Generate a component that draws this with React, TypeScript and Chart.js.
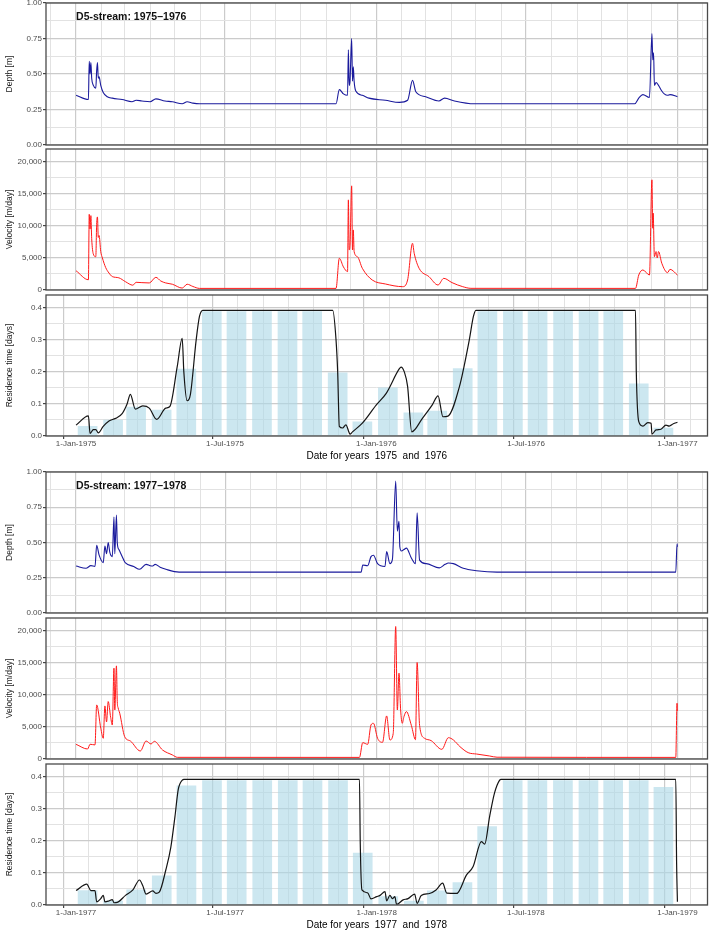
import React, { useEffect, useRef } from 'react';
import { Chart, registerables } from 'chart.js';

Chart.register(...registerables);

type Pt = [number, number];

const FONT = "'Liberation Sans', Arial, Helvetica, sans-serif";

// ---------- data: group 1 (1975–1976), x = day since 1-Jan of first year ----------
const title7576 = 'D5-stream: 1975\u20131976';
const xTitle7576 = 'Date for years  1975  and  1976';
const xTickLabels7576 = ['1-Jan-1975', '1-Jul-1975', '1-Jan-1976', '1-Jul-1976', '1-Jan-1977'];

const depth7576: Pt[] = [
  [0, 0.35], [15, 0.32], [16, 0.59], [17, 0.5], [18, 0.58], [19, 0.47], [21, 0.42], [24, 0.4],
  [25, 0.52], [26, 0.58], [27, 0.47], [28, 0.48], [30, 0.42], [33, 0.37], [38, 0.34], [44, 0.33],
  [56, 0.32], [68, 0.305], [73, 0.315], [80, 0.31], [90, 0.305], [97, 0.325], [108, 0.31],
  [117, 0.305], [129, 0.29], [135, 0.305], [142, 0.295], [150, 0.29], [316, 0.29], [320, 0.39],
  [325, 0.36], [330, 0.35], [331, 0.67], [332, 0.42], [333, 0.45], [335, 0.75], [336, 0.45],
  [337, 0.55], [338, 0.45], [340, 0.38], [348, 0.35], [356, 0.33], [376, 0.315], [393, 0.3],
  [403, 0.315], [409, 0.455], [413, 0.375], [425, 0.34], [441, 0.31], [448, 0.33], [460, 0.31],
  [484, 0.29], [679, 0.29], [684, 0.33], [689, 0.355], [697, 0.335], [700, 0.785], [701, 0.6],
  [702, 0.65], [703, 0.42], [705, 0.44], [708, 0.42], [712, 0.38], [715, 0.36], [719, 0.35],
  [722, 0.355], [731, 0.34],
];

const velocity7576: Pt[] = [
  [0, 3000], [15, 1600], [16, 11800], [17, 9500], [18, 11600], [19, 8000], [21, 5600], [24, 5200],
  [25, 10200], [26, 11400], [27, 8200], [28, 8500], [30, 6000], [32, 5000], [36, 3500], [40, 2650],
  [44, 2100], [52, 1900], [60, 1300], [69, 750], [73, 1200], [80, 1150], [89, 1100], [97, 1980],
  [103, 1400], [109, 1100], [117, 900], [129, 300], [135, 900], [142, 550], [150, 250], [316, 250],
  [320, 4950], [325, 3600], [330, 2870], [331, 14060], [332, 6250], [333, 7000], [335, 16250],
  [336, 6250], [337, 9375], [338, 6000], [342, 5200], [348, 3380], [360, 1560], [376, 940],
  [397, 520], [403, 1560], [409, 7290], [411, 5730], [417, 3380], [429, 2080], [440, 780],
  [447, 1820], [457, 1150], [470, 520], [480, 260], [680, 250], [684, 2340], [689, 3125],
  [697, 2340], [700, 17190], [701, 9640], [701.5, 12000], [703, 5200], [705, 6000], [706.5, 5000],
  [708, 6000], [712, 4170], [719, 2710], [722, 3230], [731, 2340],
];

const residence7576: Pt[] = [
  [0, 0.034], [15, 0.063], [17, 0.008], [21, 0.02], [24, 0.02], [27, 0.01], [33, 0.03], [40, 0.047],
  [48, 0.055], [56, 0.07], [62, 0.1], [66, 0.13], [72, 0.084], [81, 0.094], [89, 0.087], [98, 0.052],
  [109, 0.087], [114, 0.092], [123, 0.217], [129, 0.305], [131, 0.2], [135, 0.11], [139, 0.13],
  [146, 0.3], [150, 0.373], [154, 0.392], [312, 0.392], [316, 0.3], [318, 0.2], [320, 0.03],
  [324, 0.025], [328, 0.035], [332, 0.01], [333, 0.006], [336, 0.013], [348, 0.04], [365, 0.097],
  [377, 0.133], [393, 0.21], [395, 0.215], [399, 0.2], [403, 0.155], [408, 0.013], [421, 0.055],
  [433, 0.097], [440, 0.125], [446, 0.06], [452, 0.062], [466, 0.154], [478, 0.3], [483, 0.373],
  [486, 0.392], [680, 0.392], [681, 0.2], [684, 0.045], [689, 0.031], [695, 0.042], [699, 0.04],
  [700, 0.006], [705, 0.019], [711, 0.021], [717, 0.034], [721, 0.031], [726, 0.038], [731, 0.043],
];

const monthlyRes1975 = [0.03, 0.05, 0.09, 0.081, 0.209, 0.388, 0.388, 0.388, 0.388, 0.388, 0.197, 0.044];
const monthlyRes1976 = [0.15, 0.072, 0.078, 0.21, 0.388, 0.388, 0.388, 0.388, 0.388, 0.388, 0.163, 0.025];

// ---------- data: group 2 (1977–1978) ----------
const title7778 = 'D5-stream: 1977\u20131978';
const xTitle7778 = 'Date for years  1977  and  1978';
const xTickLabels7778 = ['1-Jan-1977', '1-Jul-1977', '1-Jan-1978', '1-Jul-1978', '1-Jan-1979'];

const depth7778: Pt[] = [
  [0, 0.333], [12, 0.317], [18, 0.336], [23, 0.33], [25, 0.48], [28, 0.41], [33, 0.357], [35, 0.475],
  [37, 0.42], [39, 0.5], [41, 0.43], [44, 0.4], [46, 0.68], [47, 0.42], [49, 0.695], [50, 0.5],
  [52, 0.45], [58, 0.375], [60, 0.355], [70, 0.33], [77, 0.31], [85, 0.345], [90, 0.335], [93, 0.333],
  [96, 0.345], [102, 0.325], [109, 0.31], [125, 0.29], [346, 0.29], [348, 0.34], [354, 0.335],
  [358, 0.4], [361, 0.41], [366, 0.35], [375, 0.33], [377, 0.435], [381, 0.35], [384, 0.38],
  [388, 0.935], [390, 0.58], [392, 0.65], [393, 0.47], [395, 0.44], [398, 0.45], [401, 0.46],
  [407, 0.39], [412, 0.35], [414, 0.71], [417, 0.375], [425, 0.35], [441, 0.32], [448, 0.345],
  [452, 0.355], [458, 0.35], [470, 0.317], [486, 0.3], [511, 0.29], [728, 0.29], [729.5, 0.49],
  [730, 0.47],
];

const velocity7778: Pt[] = [
  [0, 2290], [14, 1560], [17, 2300], [23, 2200], [25, 8440], [30, 4800], [33, 3230], [35, 8280],
  [37, 5780], [39, 8960], [42, 6500], [44, 5300], [46, 14170], [47, 7650], [49, 14530], [50, 9000],
  [51, 8000], [53, 7140], [59, 3490], [66, 2800], [78, 1250], [85, 2810], [91, 2340], [95, 2760],
  [105, 1400], [117, 630], [123, 260], [344, 250], [348, 2550], [354, 2290], [358, 5310],
  [361, 5570], [366, 3230], [372, 2600], [377, 6720], [381, 2970], [385, 4000], [388, 20670],
  [390, 7650], [392, 13390], [394, 7650], [396, 5570], [398, 6600], [401, 7400], [407, 5250],
  [412, 3020], [414, 15050], [417, 5250], [423, 3230], [431, 2870], [444, 1510], [452, 3330],
  [458, 2970], [466, 1930], [476, 990], [486, 780], [502, 470], [511, 280], [728, 250],
  [729.5, 8700], [730, 7500],
];

const residence7778: Pt[] = [
  [0, 0.045], [13, 0.065], [18, 0.045], [23, 0.045], [25, 0.01], [30, 0.02], [33, 0.03], [35, 0.01],
  [39, 0.012], [44, 0.017], [46, 0.007], [50, 0.008], [60, 0.03], [69, 0.047], [77, 0.078],
  [81, 0.06], [85, 0.034], [93, 0.044], [97, 0.036], [101, 0.04], [109, 0.11], [115, 0.18],
  [120, 0.275], [124, 0.36], [129, 0.39], [131, 0.392], [344, 0.392], [345, 0.19], [347, 0.047],
  [354, 0.038], [358, 0.019], [365, 0.026], [369, 0.03], [375, 0.042], [377, 0.013], [381, 0.03],
  [384, 0.02], [387, 0.026], [389, 0.002], [397, 0.016], [403, 0.02], [411, 0.034], [414, 0.005],
  [419, 0.03], [429, 0.036], [437, 0.047], [445, 0.068], [450, 0.037], [462, 0.036], [474, 0.094],
  [482, 0.12], [492, 0.198], [496, 0.19], [502, 0.276], [508, 0.35], [514, 0.389], [516, 0.392],
  [728, 0.392], [729, 0.13], [730, 0.01],
];

const monthlyRes1977 = [0.045, 0.012, 0.047, 0.091, 0.372, 0.388, 0.388, 0.388, 0.388, 0.388, 0.388, 0.162];
const monthlyRes1978 = [0.026, 0.012, 0.044, 0.07, 0.245, 0.388, 0.388, 0.388, 0.388, 0.388, 0.388, 0.367];

// ---------- axis definitions ----------
const depthTicks = [0, 0.25, 0.5, 0.75, 1];
const velocityTicks = [0, 5000, 10000, 15000, 20000];
const residenceTicks = [0, 0.1, 0.2, 0.3, 0.4];

const MONTHS = ['Jan', 'Feb', 'Mar', 'Apr', 'May', 'Jun', 'Jul', 'Aug', 'Sep', 'Oct', 'Nov', 'Dec'];

function dayOf(y0: number, y: number, m: number, d: number) {
  return Math.round((Date.UTC(y, m, d) - Date.UTC(y0, 0, 1)) / 86400000);
}
function labelDay(y0: number, label: string) {
  const [d, mon, y] = label.split('-');
  return dayOf(y0, Number(y), MONTHS.indexOf(mon), Number(d));
}

type Kind = 'depth' | 'velocity' | 'residence';

const KIND: Record<Kind, any> = {
  depth: {
    min: 0, max: 1, major: depthTicks, title: 'Depth [m]', color: '#1a1a9c', width: 1.1,
    fmt: (v: number) => v.toFixed(2),
  },
  velocity: {
    min: 0, max: 22000, major: velocityTicks, title: 'Velocity [m/day]', color: '#ff1a1a', width: 1,
    fmt: (v: number) => v.toLocaleString('en-US'),
  },
  residence: {
    min: 0, max: 0.44, major: residenceTicks, title: 'Residence time [days]', color: '#151515', width: 1.2,
    fmt: (v: number) => v.toFixed(1),
  },
};

const decorPlugin = {
  id: 'decor',
  afterDraw(chart: any, _args: any, opts: any) {
    const { ctx, chartArea } = chart;
    ctx.save();
    ctx.strokeStyle = '#4a4a4a';
    ctx.lineWidth = 1.3;
    ctx.strokeRect(chartArea.left, chartArea.top, chartArea.right - chartArea.left, chartArea.bottom - chartArea.top);
    if (opts && opts.text) {
      ctx.fillStyle = '#111';
      ctx.font = `bold 10.5px ${FONT}`;
      ctx.textAlign = 'left';
      ctx.textBaseline = 'middle';
      const x = chart.scales.x.getPixelForValue(0);
      ctx.fillText(opts.text, x, chartArea.top + 14);
    }
    ctx.restore();
  },
};

interface PanelProps {
  top: number;
  plotH: number;
  kind: Kind;
  y0: number;
  nDays: number;
  line: Pt[];
  bars?: number[][];
  title?: string;
  xLabels: string[];
  xTitle?: string;
}

const W = 709;
const Y_AXIS_W = 46;
const PAD_TOP = 6;
const PAD_BOTTOM = 6;
const X_AXIS_H = 28;

function Panel(p: PanelProps) {
  const ref = useRef<HTMLCanvasElement>(null);
  const bottom = !!p.xTitle;
  const canvasTop = p.top - PAD_TOP;
  const canvasH = PAD_TOP + p.plotH + (bottom ? X_AXIS_H : 0) + PAD_BOTTOM;

  useEffect(() => {
    const k = KIND[p.kind];
    const xMin = -0.05 * p.nDays;
    const xMax = 1.05 * p.nDays;
    const monthTicks: number[] = [];
    for (let y = p.y0 - 1; y <= p.y0 + 2; y++) {
      for (let m = 0; m < 12; m++) {
        const d = dayOf(p.y0, y, m, 1);
        if (d >= xMin && d <= xMax) monthTicks.push(d);
      }
    }
    const majorX = new Map<number, string>();
    p.xLabels.forEach((l) => majorX.set(labelDay(p.y0, l), l));

    const majorY: number[] = k.major;
    const allY: number[] = [];
    majorY.forEach((v, i) => {
      allY.push(v);
      if (i < majorY.length - 1) allY.push((v + majorY[i + 1]) / 2);
    });
    const isMajorY = (v: number) => majorY.some((t) => Math.abs(t - v) < 1e-9);

    const datasets: any[] = [
      {
        type: 'line',
        data: p.line.map(([x, y]) => ({ x, y })),
        borderColor: k.color,
        borderWidth: k.width,
        pointRadius: 0,
        cubicInterpolationMode: 'monotone',
        fill: false,
        order: 0,
      },
    ];
    if (p.bars) {
      const barPts: any[] = [];
      p.bars.forEach((vals, yi) => {
        vals.forEach((v, m) => barPts.push({ x: dayOf(p.y0, p.y0 + yi, m, 15), y: v }));
      });
      datasets.push({
        type: 'bar',
        data: barPts,
        backgroundColor: 'rgba(173,216,230,0.62)',
        borderWidth: 0,
        barThickness: 19,
        order: 1,
      });
    }

    const chart = new Chart(ref.current as HTMLCanvasElement, {
      type: 'line',
      data: { datasets },
      plugins: [decorPlugin],
      options: {
        animation: false,
        responsive: false,
        maintainAspectRatio: false,
        layout: { padding: { top: PAD_TOP, bottom: PAD_BOTTOM, left: 0, right: 1.5 } },
        plugins: {
          legend: { display: false },
          tooltip: { enabled: false },
          decor: { text: p.title },
        } as any,
        scales: {
          x: {
            type: 'linear',
            min: xMin,
            max: xMax,
            offset: false,
            afterBuildTicks: (s: any) => {
              s.ticks = monthTicks.map((v) => ({ value: v }));
            },
            afterFit: (s: any) => {
              s.height = bottom ? X_AXIS_H : 0;
            },
            ticks: {
              display: bottom,
              autoSkip: false,
              maxRotation: 0,
              minRotation: 0,
              padding: 0,
              color: '#4d4d4d',
              font: { family: FONT, size: 8 },
              callback: (v: any) => majorX.get(Number(v)) ?? '',
            },
            grid: {
              color: (c: any) => (c.tick && majorX.has(c.tick.value) ? '#cbcbcb' : '#e2e2e2'),
              lineWidth: (c: any) => (c.tick && majorX.has(c.tick.value) ? 1.2 : 1),
              drawTicks: bottom,
              tickLength: 3,
              tickColor: (c: any) => (c.tick && majorX.has(c.tick.value) ? '#444' : 'rgba(0,0,0,0)'),
            },
            border: { display: false },
            title: {
              display: bottom,
              text: p.xTitle || '',
              color: '#000',
              font: { family: FONT, size: 10 },
              padding: { top: 0, bottom: 2 },
            },
          },
          y: {
            type: 'linear',
            min: k.min,
            max: k.max,
            afterBuildTicks: (s: any) => {
              s.ticks = allY.map((v) => ({ value: v }));
            },
            afterFit: (s: any) => {
              s.width = Y_AXIS_W;
            },
            ticks: {
              padding: 1,
              color: '#4d4d4d',
              font: { family: FONT, size: 8 },
              callback: (v: any) => (isMajorY(Number(v)) ? k.fmt(Number(v)) : ''),
            },
            grid: {
              color: (c: any) => (c.tick && isMajorY(c.tick.value) ? '#cbcbcb' : '#e2e2e2'),
              lineWidth: (c: any) => (c.tick && isMajorY(c.tick.value) ? 1.2 : 1),
              drawTicks: true,
              tickLength: 3,
              tickColor: (c: any) => (c.tick && isMajorY(c.tick.value) ? '#444' : 'rgba(0,0,0,0)'),
            },
            border: { display: false },
            title: {
              display: true,
              text: k.title,
              color: '#1a1a1a',
              font: { family: FONT, size: 8.5 },
              padding: { top: 5, bottom: 0 },
            },
          },
        },
      } as any,
    });
    return () => chart.destroy();
  }, []);

  return (
    <div style={{ position: 'absolute', left: 0, top: canvasTop, width: W, height: canvasH }}>
      <canvas ref={ref} width={W} height={canvasH} style={{ display: 'block', width: W, height: canvasH }} />
    </div>
  );
}

export default function App() {
  return (
    <div style={{ position: 'absolute', left: 0, top: 0, width: 709, height: 930, background: '#fff', overflow: 'hidden' }}>
      <Panel top={3} plotH={142} kind="depth" y0={1975} nDays={731} line={depth7576} title={title7576} xLabels={xTickLabels7576} />
      <Panel top={149} plotH={141} kind="velocity" y0={1975} nDays={731} line={velocity7576} xLabels={xTickLabels7576} />
      <Panel top={295} plotH={141} kind="residence" y0={1975} nDays={731} line={residence7576} bars={[monthlyRes1975, monthlyRes1976]} xLabels={xTickLabels7576} xTitle={xTitle7576} />
      <Panel top={472} plotH={141} kind="depth" y0={1977} nDays={730} line={depth7778} title={title7778} xLabels={xTickLabels7778} />
      <Panel top={618} plotH={141} kind="velocity" y0={1977} nDays={730} line={velocity7778} xLabels={xTickLabels7778} />
      <Panel top={764} plotH={141} kind="residence" y0={1977} nDays={730} line={residence7778} bars={[monthlyRes1977, monthlyRes1978]} xLabels={xTickLabels7778} xTitle={xTitle7778} />
    </div>
  );
}
